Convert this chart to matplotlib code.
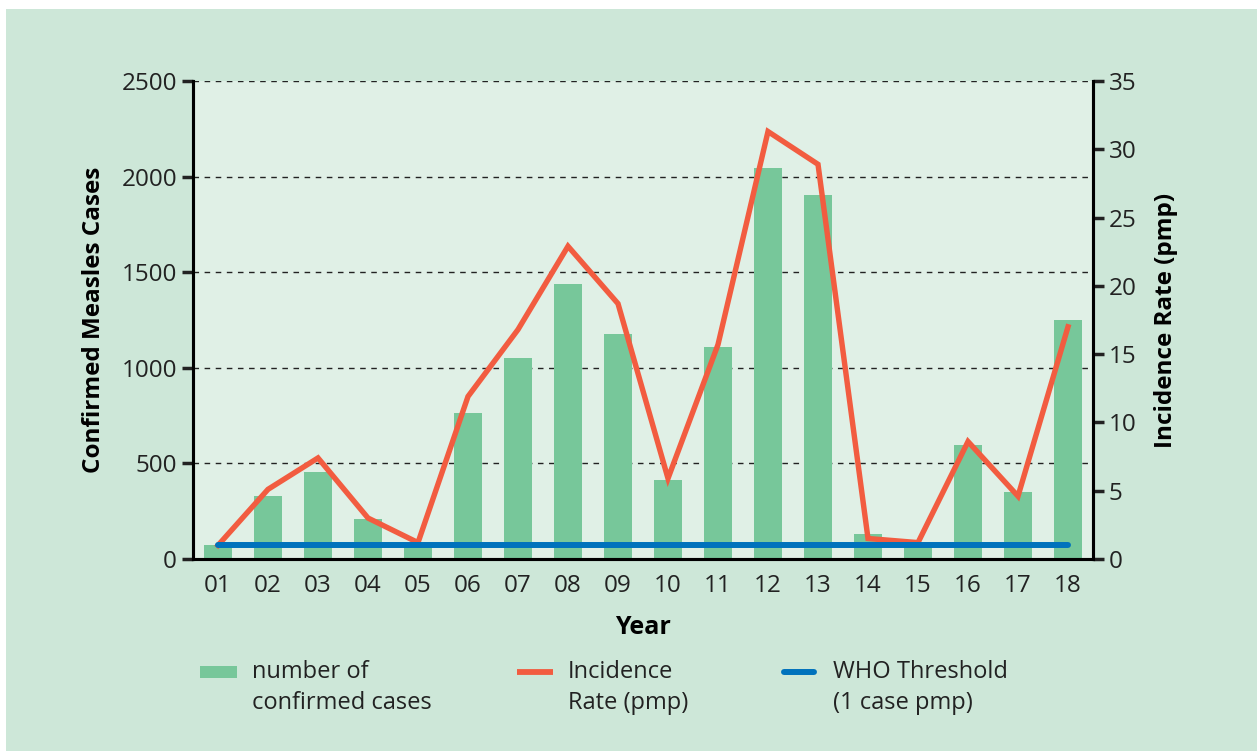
import matplotlib
matplotlib.use("Agg")
import matplotlib.pyplot as plt
from matplotlib.patches import Rectangle
from matplotlib.lines import Line2D

years = ["01", "02", "03", "04", "05", "06", "07", "08", "09", "10",
         "11", "12", "13", "14", "15", "16", "17", "18"]
cases = [73, 330, 455, 209, 70, 764, 1051, 1438, 1177, 413,
         1109, 2045, 1904, 131, 73, 596, 350, 1250]
incidence = [1.0, 5.1, 7.4, 3.0, 1.2, 11.9, 16.8, 22.9, 18.7, 5.9,
             15.7, 31.3, 28.9, 1.5, 1.2, 8.6, 4.6, 17.0]
who_threshold = [1.0] * len(years)

left_ticks = [0, 500, 1000, 1500, 2000, 2500]
right_ticks = [0, 5, 10, 15, 20, 25, 30, 35]

legend_labels = [("number of", "confirmed cases"),
                 ("Incidence", "Rate (pmp)"),
                 ("WHO Threshold", "(1 case pmp)")]

GREEN = "#77C79A"
ORANGE = "#F25C40"
BLUE = "#0072BC"
PANEL = "#CDE7D8"
PLOT_BG = "#E0F0E6"
TXT = "#222222"

plt.rcParams['font.family'] = ['Open Sans', 'DejaVu Sans']

W, H = 1257, 751
fig = plt.figure(figsize=(W / 100, H / 100), dpi=100)
fig.patch.set_facecolor("white")
fig.patches.append(Rectangle((6 / W, 0), 1 - 6 / W, 1 - 9 / H,
                             transform=fig.transFigure, facecolor=PANEL,
                             edgecolor="none", zorder=-10))

ax = fig.add_axes([193 / W, 192 / H, 900 / W, 478 / H])
ax.set_facecolor(PLOT_BG)
x = list(range(len(years)))

ax.set_axisbelow(True)
ax.yaxis.grid(True, linestyle=(0, (4, 4)), color="#222222", linewidth=1.0)
ax.bar(x, cases, width=0.56, color=GREEN, zorder=2)
ax.set_xlim(-0.5, len(years) - 0.5)
ax.set_ylim(0, 2500)
ax.set_yticks(left_ticks)
ax.set_xticks(x)
ax.set_xticklabels(years)
ax.tick_params(axis="x", length=0, labelsize=17.5, pad=11, colors=TXT)
ax.tick_params(axis="y", length=8, width=2.5, labelsize=17.5, colors=TXT)
ax.spines["top"].set_visible(False)
for s in ["left", "right", "bottom"]:
    ax.spines[s].set_linewidth(2.2)
    ax.spines[s].set_color("black")
ax.set_ylabel("Confirmed Measles Cases", fontsize=17.5, fontweight="bold",
              labelpad=11, color="black")
ax.set_xlabel("Year", fontsize=18, fontweight="bold", labelpad=12, color="black")

ax2 = ax.twinx()
ax2.set_ylim(0, 35)
ax2.set_yticks(right_ticks)
ax2.plot(x, incidence, color=ORANGE, linewidth=3.9, zorder=3, solid_joinstyle="miter")
ax2.plot(x, who_threshold, color=BLUE, linewidth=4.3, zorder=4, solid_capstyle="round")
ax2.tick_params(axis="y", length=8, width=2.5, labelsize=17.5, colors=TXT)
ax2.spines["top"].set_visible(False)
for s in ["left", "right", "bottom"]:
    ax2.spines[s].set_linewidth(2.2)
ax2.set_ylabel("Incidence Rate (pmp)", fontsize=17.5, fontweight="bold",
               labelpad=12, color="black")

# Legend drawn at the bottom, handles aligned with the first text line
def fx(px):
    return px / W

def fy(py):
    return 1 - py / H

text_x = [252, 568, 833]
hy = 672
fig.patches.append(Rectangle((fx(200), fy(hy + 6)), fx(37), 12 / H,
                             transform=fig.transFigure, facecolor=GREEN,
                             edgecolor="none"))
fig.lines.append(Line2D([fx(517), fx(553)], [fy(hy), fy(hy)], transform=fig.transFigure,
                        color=ORANGE, linewidth=4.2, solid_capstyle="butt"))
fig.lines.append(Line2D([fx(784), fx(814)], [fy(hy), fy(hy)], transform=fig.transFigure,
                        color=BLUE, linewidth=4.3, solid_capstyle="round"))
for tx, (l1, l2) in zip(text_x, legend_labels):
    fig.text(fx(tx), fy(678), l1, fontsize=17, color=TXT, va="baseline", ha="left")
    fig.text(fx(tx), fy(709), l2, fontsize=17, color=TXT, va="baseline", ha="left")

fig.savefig("out.png", dpi=100, facecolor=fig.get_facecolor())
